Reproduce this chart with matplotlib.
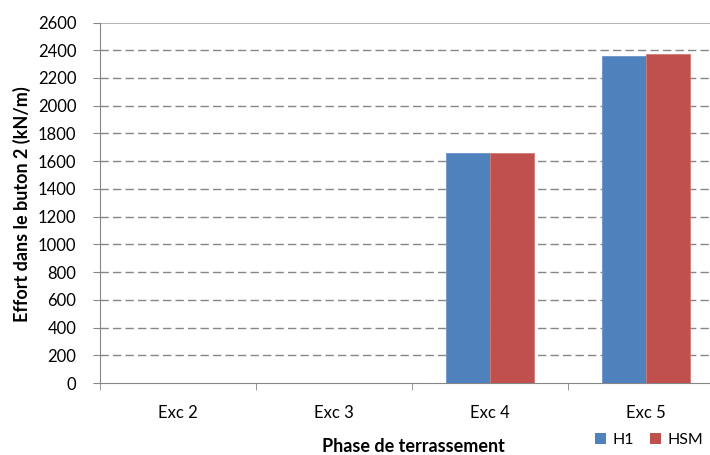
import matplotlib
matplotlib.use("Agg")
import matplotlib.pyplot as plt
import numpy as np
from matplotlib.patches import Patch

# Data
phases = ["Exc 2", "Exc 3", "Exc 4", "Exc 5"]
h1_values = [0, 0, 1660, 2360]
hsm_values = [0, 0, 1660, 2375]
series_names = ["H1", "HSM"]
y_ticks = list(range(0, 2601, 200))

blue = "#4F81BD"
red = "#C0504D"
axis_grey = "#868686"
font = "Lato"

W, H = 710, 455
fig = plt.figure(figsize=(W / 100, H / 100), dpi=100)
ax = fig.add_axes([100 / W, 1 - 383 / H, 624 / W, (383 - 22.5) / H])

x = np.arange(len(phases))
bw = 0.285
ax.bar(x - bw / 2, h1_values, width=bw, color=blue, edgecolor="#6A95C9", linewidth=0.6, zorder=3)
ax.bar(x + bw / 2, hsm_values, width=bw, color=red, edgecolor="#D27A77", linewidth=0.6, zorder=3)

ax.set_xlim(-0.5, len(phases) - 0.5)
ax.set_ylim(0, 2600)

# gridlines
for v in y_ticks[1:-1]:
    ax.axhline(v, color=axis_grey, linewidth=1.0, linestyle=(0, (6, 3)), zorder=1)
ax.axhline(2600, color="#A6A6A6", linewidth=1.2, zorder=1)

for s in ["top", "right"]:
    ax.spines[s].set_visible(False)
ax.spines["left"].set_color(axis_grey)
ax.spines["bottom"].set_color(axis_grey)

ax.set_yticks(y_ticks)
ax.set_yticklabels([str(v) for v in y_ticks], fontfamily=font, fontsize=12)
ax.tick_params(axis="y", direction="out", length=5, color=axis_grey, pad=12)

ax.set_xticks(x)
ax.set_xticklabels(phases, fontfamily=font, fontsize=12)
ax.tick_params(axis="x", which="major", length=0, pad=16)
ax.set_xticks(np.arange(-0.5, len(phases) + 0.5, 1.0), minor=True)
ax.tick_params(axis="x", which="minor", direction="out", length=5, color=axis_grey)

fig.text(22 / W, 1 - 204 / H, "Effort dans le buton 2 (kN/m)", rotation=90,
         ha="center", va="center", fontfamily=font, fontweight="bold", fontsize=13)
fig.text(413 / W, 1 - 447 / H, "Phase de terrassement",
         ha="center", va="center", fontfamily=font, fontweight="bold", fontsize=13)

handles = [Patch(facecolor=blue), Patch(facecolor=red)]
fig.legend(handles, series_names, loc="center", bbox_to_anchor=(649 / W, 1 - 440 / H),
           ncol=2, frameon=False, handlelength=0.7, handleheight=0.7,
           handletextpad=0.4, columnspacing=1.0, prop={"family": font, "size": 11.5})

fig.savefig("out.png", dpi=100)
